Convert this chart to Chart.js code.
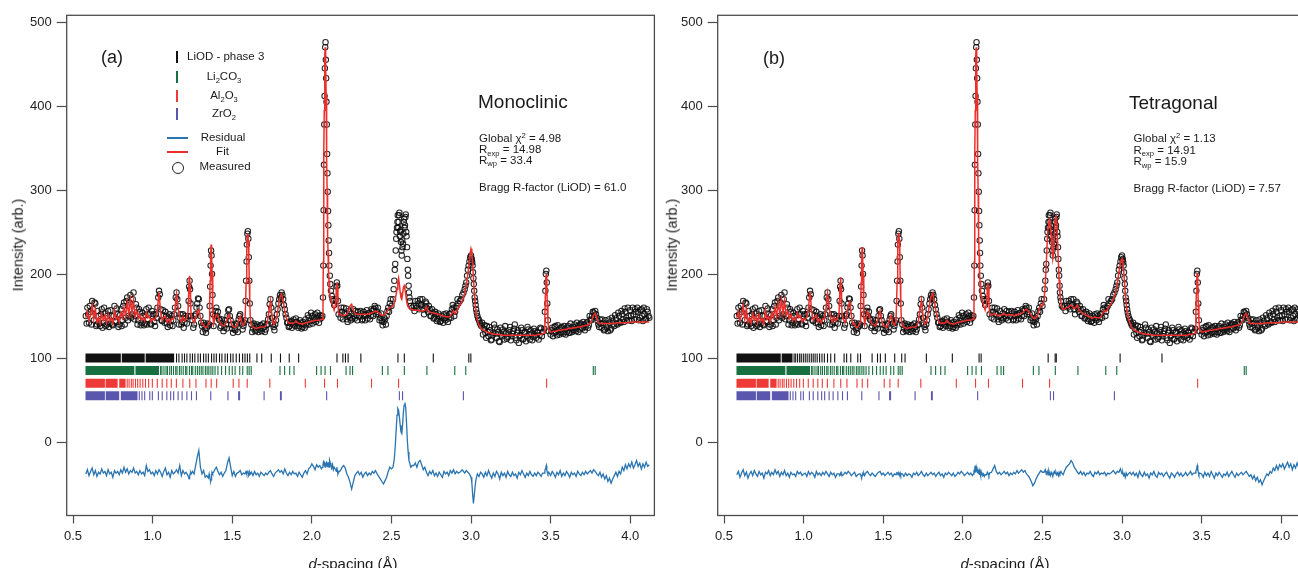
<!DOCTYPE html>
<html>
<head>
<meta charset="utf-8">
<script src="https://cdn.jsdelivr.net/npm/chart.js@4.4.1/dist/chart.umd.min.js"></script>
<style>
  html, body { margin: 0; padding: 0; background: #fff; }
  #wrap { position: relative; width: 1298px; height: 568px; overflow: hidden;
          font-family: "Liberation Sans", Arial, Helvetica, sans-serif; color: #1a1a1a; }
  .panel { position: absolute; top: 0; width: 660px; height: 568px; }
  .panel canvas { position: absolute; left: 0; top: 0; }
  .t  { position: absolute; white-space: nowrap; line-height: 1; transform: translate(-50%, -50%); }
  .tl { position: absolute; white-space: nowrap; line-height: 1; transform: translateY(-50%); }
  .ytitle { position: absolute; white-space: nowrap; line-height: 1; font-size: 14.5px;
            transform: translate(-50%, -50%) rotate(-90deg); }
  .xtitle { position: absolute; white-space: nowrap; line-height: 1; font-size: 15px;
            transform: translate(-50%, -50%); }
  .small { font-size: 11.5px; }
  sub, sup { font-size: 0.66em; line-height: 0; position: relative; vertical-align: baseline; }
  sub { top: 0.38em; }
  sup { top: -0.5em; }
  .mark { position: absolute; }
</style>
</head>
<body>
<div id="wrap">
  <div class="panel" id="panelA" style="left:0px">
    <canvas id="chartA" width="660" height="568"></canvas>
    <div class="ytitle" style="left:18px; top:245px">Intensity (arb.)</div>
    <div class="xtitle" style="left:353px; top:563px"><i>d</i>-spacing (Å)</div>
    <div class="t" style="left:112px; top:57px; font-size:18px">(a)</div>

    <div class="mark" style="left:176px; top:51px; width:2.4px; height:12px; background:#111"></div>
    <div class="mark" style="left:176px; top:71px; width:2.4px; height:12px; background:#17703f"></div>
    <div class="mark" style="left:176px; top:90px; width:2.4px; height:12px; background:#ee3a37"></div>
    <div class="mark" style="left:176px; top:108px; width:2.4px; height:12px; background:#5b56ad"></div>
    <div class="tl small" style="left:187px; top:57px">LiOD - phase 3</div>
    <div class="t small" style="left:224px; top:77px">Li<sub>2</sub>CO<sub>3</sub></div>
    <div class="t small" style="left:224px; top:96px">Al<sub>2</sub>O<sub>3</sub></div>
    <div class="t small" style="left:224px; top:114px">ZrO<sub>2</sub></div>
    <div class="mark" style="left:166.7px; top:137.3px; width:21.6px; height:2px; background:#2a74b0"></div>
    <div class="mark" style="left:166.7px; top:150.8px; width:21.6px; height:2px; background:#ec2f2a"></div>
    <div class="mark" style="left:171.5px; top:161.5px; width:10px; height:10px; border:1.2px solid #222; border-radius:50%"></div>
    <div class="t small" style="left:223px; top:138px">Residual</div>
    <div class="t small" style="left:222.5px; top:152px">Fit</div>
    <div class="t small" style="left:225px; top:167px">Measured</div>

    <div class="tl" style="left:478px; top:101px; font-size:19px">Monoclinic</div>
    <div class="tl small" style="left:479px; top:139px">Global χ<sup>2</sup> = 4.98</div>
    <div class="tl small" style="left:479px; top:150px">R<sub>exp</sub> = 14.98</div>
    <div class="tl small" style="left:479px; top:160.5px">R<sub>wp</sub> = 33.4</div>
    <div class="tl small" style="left:479px; top:187.5px">Bragg R-factor (LiOD) = 61.0</div>
  </div>

  <div class="panel" id="panelB" style="left:651px">
    <canvas id="chartB" width="660" height="568"></canvas>
    <div class="ytitle" style="left:20.5px; top:245px">Intensity (arb.)</div>
    <div class="xtitle" style="left:354px; top:563px"><i>d</i>-spacing (Å)</div>
    <div class="t" style="left:123px; top:58px; font-size:18px">(b)</div>
    <div class="tl" style="left:478px; top:101.5px; font-size:19px">Tetragonal</div>
    <div class="tl small" style="left:482.5px; top:138.5px">Global χ<sup>2</sup> = 1.13</div>
    <div class="tl small" style="left:482.5px; top:150.5px">R<sub>exp</sub> = 14.91</div>
    <div class="tl small" style="left:482.5px; top:162px">R<sub>wp</sub> = 15.9</div>
    <div class="tl small" style="left:482.5px; top:188.5px">Bragg R-factor (LiOD) = 7.57</div>
  </div>
</div>

<script>
// axis ticks
const xTickValues = [0.5, 1.0, 1.5, 2.0, 2.5, 3.0, 3.5, 4.0];
const yTickValues = [0, 100, 200, 300, 400, 500];

// d-spacing grid (Å) shared by the measured pattern, the fits and the residuals
const dSpacing = [
  0.58,0.59,0.60,0.61,0.62,0.63,0.64,0.65,0.66,0.67,0.68,0.69,0.70,0.71,0.72,0.73,0.74,0.75,0.76,0.77,0.78,0.79,0.80,0.81,0.82,0.83,0.84,0.85,0.86,0.87,0.88,0.89,0.90,0.91,0.92,0.93,0.94,0.95,0.96,0.97,0.98,0.99,1.00,
  1.01,1.02,1.03,1.04,1.05,1.06,1.07,1.08,1.09,1.10,1.11,1.12,1.13,1.14,1.15,1.16,1.17,1.18,1.19,1.20,1.21,
  1.222,1.226,1.229,1.232,1.235,1.238,1.242,
  1.25,1.26,1.27,1.28,1.29,1.30,1.31,1.32,1.33,1.34,1.35,
  1.355,1.358,1.361,1.364,1.367,1.370,1.373,1.376,1.379,1.383,
  1.39,1.40,1.41,1.42,1.43,1.44,1.45,1.46,1.47,1.48,1.49,1.50,1.51,1.52,1.53,1.54,1.55,1.56,1.57,
  1.580,1.584,1.587,1.590,1.592,1.595,1.598,1.601,1.604,1.607,1.610,1.614,
  1.62,1.63,1.64,1.65,1.66,1.67,1.68,1.69,1.70,1.71,1.72,1.73,1.74,1.75,1.76,1.77,1.78,1.79,1.80,1.81,1.82,1.83,1.84,1.85,1.86,1.87,1.88,1.89,1.90,1.91,1.92,1.93,1.94,1.95,1.96,1.97,1.98,1.99,2.00,2.01,2.02,2.03,2.04,2.05,2.06,
  2.066,2.070,2.072,2.074,2.076,2.078,2.080,2.082,2.084,2.086,2.088,2.090,2.092,2.094,2.096,2.098,2.100,2.102,2.104,2.106,2.108,2.110,2.113,2.116,2.120,2.125,2.130,2.135,2.140,
  2.150,2.154,2.157,2.160,2.164,2.168,
  2.18,2.19,2.20,2.21,2.22,2.23,2.24,2.25,2.26,2.27,2.28,2.29,2.30,2.31,2.32,2.33,2.34,2.35,2.36,2.37,2.38,2.39,2.40,2.41,2.42,2.43,2.44,2.45,2.46,2.47,2.48,2.49,2.50,
  2.510,2.518,2.524,2.530,2.535,2.540,2.545,2.550,2.555,2.560,2.565,2.570,2.575,2.580,2.585,2.590,2.595,2.600,2.605,2.610,2.616,2.622,2.630,
  2.64,2.65,2.66,2.67,2.68,2.69,2.70,2.71,2.72,2.73,2.74,2.75,2.76,2.77,2.78,2.79,2.80,2.81,2.82,2.83,2.84,2.85,2.86,2.87,2.88,2.89,2.90,2.91,2.92,
  2.930,2.945,2.960,2.970,2.980,2.990,2.995,3.000,3.005,3.010,3.015,3.020,3.026,3.032,3.040,3.050,3.060,
  3.07,3.08,3.09,3.10,3.11,3.12,3.13,3.14,3.15,3.16,3.17,3.18,3.19,3.20,3.21,3.22,3.23,3.24,3.25,3.26,3.27,3.28,3.29,3.30,3.31,3.32,3.33,3.34,3.35,3.36,3.37,3.38,3.39,3.40,3.41,3.42,3.43,3.44,3.45,
  3.460,3.464,3.467,3.470,3.473,3.476,3.479,3.483,3.488,
  3.50,3.51,3.52,3.53,3.54,3.55,3.56,3.57,3.58,3.59,3.60,3.61,3.62,3.63,3.64,3.65,3.66,3.67,3.68,3.69,3.70,3.71,3.72,3.73,3.74,3.75,3.76,3.77,3.78,3.79,3.80,3.81,3.82,3.83,3.84,3.85,3.86,3.87,3.88,3.89,3.90,3.91,3.92,3.93,3.94,3.95,3.96,3.97,3.98,3.99,4.00,4.01,4.02,4.03,4.04,4.05,4.06,4.07,4.08,4.09,4.10,4.11,4.12
];

// measured intensity on the shared grid (same data in both panels)
const measured = [
  150,160,142,155,168,145,165,140,150,138,158,142,153,140,156,141,150,139,162,143,152,140,158,145,166,148,172,150,175,152,178,150,160,145,155,142,150,141,158,146,152,140,150,
  143,152,160,180,158,144,150,155,141,148,139,150,145,160,178,162,148,140,152,142,148,
  150,168,185,192,182,165,150,
  145,140,152,165,170,150,138,142,134,136,138,
  140,162,185,210,228,222,200,175,152,138,
  150,160,155,145,138,142,136,140,150,158,145,135,139,133,140,146,152,141,138,
  145,168,192,215,235,248,251,242,220,192,165,145,
  140,135,138,133,137,134,139,135,137,134,140,152,170,148,137,140,152,165,175,178,170,158,148,142,138,144,140,143,147,141,138,142,137,140,146,142,148,144,150,145,152,147,150,146,148,
  150,172,210,276,330,378,412,445,470,476,455,433,405,378,343,320,298,275,258,240,225,210,198,188,180,174,170,168,163,
  170,185,190,186,168,152,
  148,155,160,152,146,150,148,153,158,147,151,155,149,153,146,150,152,147,154,150,156,158,160,155,152,148,144,143,146,150,160,165,162,
  170,192,212,242,255,270,262,273,250,238,222,232,248,266,258,271,245,218,198,178,168,162,160,
  162,168,160,165,170,163,158,162,165,155,158,150,154,148,152,146,150,144,148,152,145,150,147,153,158,160,155,162,165,
  168,175,182,190,205,215,220,222,218,210,195,180,168,158,150,145,140,
  142,135,130,138,126,133,122,130,136,124,131,119,128,134,122,130,125,133,121,129,135,124,130,118,127,133,123,131,126,134,122,129,125,132,124,130,127,135,131,
  135,155,180,200,204,190,165,145,132,
  128,136,130,138,127,134,130,137,129,135,131,138,130,136,133,140,132,138,134,141,135,140,137,143,139,146,150,154,156,148,140,146,136,142,134,140,132,142,135,144,138,147,140,150,142,152,143,155,145,150,157,144,152,158,146,155,148,158,144,152,147,155,148
];

// further measured points lying between the grid points above
const dMid = [
  0.585,0.595,0.605,0.615,0.625,0.635,0.645,0.655,0.665,0.675,0.685,0.695,0.705,0.715,0.725,0.735,0.745,0.755,0.765,0.775,0.785,0.795,0.805,0.815,0.825,0.835,0.845,0.855,0.865,0.875,0.885,0.895,0.905,0.915,0.925,0.935,0.945,0.955,0.965,0.975,0.985,0.995,
  1.005,1.015,1.025,1.035,1.045,1.055,1.065,1.075,1.085,1.095,1.105,1.115,1.125,1.135,1.145,1.155,1.165,1.175,1.185,1.195,1.205,1.215,
  1.255,1.265,1.275,1.285,1.295,1.305,1.315,1.325,1.335,1.345,
  1.395,1.405,1.415,1.425,1.435,1.445,1.455,1.465,1.475,1.485,1.495,1.505,1.515,1.525,1.535,1.545,1.555,1.565,1.575,
  1.625,1.635,1.645,1.655,1.665,1.675,1.685,1.695,1.705,1.715,1.725,1.735,1.745,1.755,1.765,1.775,1.785,1.795,1.805,1.815,1.825,1.835,1.845,1.855,1.865,1.875,1.885,1.895,1.905,1.915,1.925,1.935,1.945,1.955,1.965,1.975,1.985,1.995,2.005,2.015,2.025,2.035,2.045,2.055,
  2.185,2.195,2.205,2.215,2.225,2.235,2.245,2.255,2.265,2.275,2.285,2.295,2.305,2.315,2.325,2.335,2.345,2.355,2.365,2.375,2.385,2.395,2.405,2.415,2.425,2.435,2.445,2.455,2.465,2.475,2.485,2.495,
  2.514,2.521,2.527,2.532,2.538,2.543,2.548,2.553,2.558,2.563,2.568,2.573,2.578,2.583,2.588,2.593,2.598,2.603,2.608,2.613,
  2.645,2.655,2.665,2.675,2.685,2.695,2.705,2.715,2.725,2.735,2.745,2.755,2.765,2.775,2.785,2.795,2.805,2.815,2.825,2.835,2.845,2.855,2.865,2.875,2.885,2.895,2.905,2.915,
  2.9375,2.9525,2.965,2.975,2.985,3.0025,3.0075,3.0125,3.0175,3.023,3.029,3.036,3.045,3.055,3.065,
  3.075,3.085,3.095,3.105,3.115,3.125,3.135,3.145,3.155,3.165,3.175,3.185,3.195,3.205,3.215,3.225,3.235,3.245,3.255,3.265,3.275,3.285,3.295,3.305,3.315,3.325,3.335,3.345,3.355,3.365,3.375,3.385,3.395,3.405,3.415,3.425,3.435,3.445,
  3.505,3.515,3.525,3.535,3.545,3.555,3.565,3.575,3.585,3.595,3.605,3.615,3.625,3.635,3.645,3.655,3.665,3.675,3.685,3.695,3.705,3.715,3.725,3.735,3.745,3.755,3.765,3.775,3.785,3.795,3.805,3.815,3.825,3.835,3.845,3.855,3.865,3.875,3.885,3.895,3.905,3.915,3.925,3.935,3.945,3.955,3.965,3.975,3.985,3.995,4.005,4.015,4.025,4.035,4.045,4.055,4.065,4.075,4.085,4.095,4.105,4.115
];
const measuredMid = [
  141,152,162,140,158,166,138,156,141,152,136,160,138,150,137,157,140,150,144,159,137,151,138,162,140,168,145,166,148,170,146,164,140,158,139,154,139,151,140,160,141,156,
  152,138,148,172,176,145,157,142,150,137,152,145,138,152,172,170,140,152,143,136,150,141,
  136,150,160,171,160,142,131,139,130,141,
  156,150,147,136,146,132,145,135,157,150,140,130,134,141,131,150,145,134,142,
  131,141,132,140,131,139,132,141,131,139,146,164,160,140,133,145,158,170,172,175,163,152,142,137,143,136,146,138,143,136,145,135,143,136,139,151,140,154,141,148,143,154,142,151,
  160,146,153,159,143,156,145,147,150,156,145,150,156,145,155,145,157,153,146,158,150,162,152,160,145,153,139,148,140,156,155,170,
  182,205,228,250,262,255,270,245,252,228,240,236,262,255,268,250,232,205,186,172,
  156,162,168,158,163,170,152,167,158,162,150,158,147,155,144,153,143,150,142,147,153,143,152,148,163,150,160,170,
  170,178,186,198,210,216,214,202,188,172,163,154,147,142,138,
  128,139,124,131,137,121,127,140,129,134,120,136,126,131,138,123,129,137,126,132,140,121,133,126,136,122,130,120,137,128,133,121,135,127,131,122,136,126,
  133,126,137,131,139,128,136,131,138,128,136,130,141,131,137,134,142,131,140,136,143,133,141,136,150,145,155,150,152,144,137,141,146,133,145,136,146,133,148,140,151,141,154,143,156,146,159,148,160,145,150,160,146,155,160,145,157,150,160,146,158,150
];

// calculated profile, monoclinic model (a)
const fitMono = [
  148,155,145,152,163,146,158,143,148,141,153,145,150,142,152,144,147,141,157,146,149,143,154,148,160,150,166,152,170,153,168,150,156,147,152,145,148,144,154,148,150,143,147,
  145,148,158,178,155,145,148,150,143,146,142,147,146,158,176,160,147,143,149,144,146,
  155,175,195,198,184,165,150,
  146,142,148,155,158,148,140,140,136,137,140,
  142,165,192,220,235,225,202,176,152,140,
  146,152,150,144,140,139,138,141,148,152,145,138,137,136,139,145,150,142,139,
  144,166,190,215,234,246,248,240,220,193,166,146,
  139,137,136,135,136,136,137,137,137,138,142,155,168,150,140,142,150,162,172,176,168,156,148,143,141,142,141,142,144,142,141,141,140,141,142,142,143,143,144,144,145,145,145,145,146,
  146,160,215,285,345,395,435,460,470,466,445,412,375,335,300,270,245,225,210,200,192,185,178,173,169,166,163,160,157,
  165,183,190,184,166,152,
  152,151,150,151,152,156,162,164,158,153,152,152,152,152,152,152,152,152,153,153,154,155,156,155,154,152,151,151,152,154,158,160,160,
  162,165,170,176,182,190,195,188,178,172,170,176,184,186,182,175,168,163,161,160,159,158,158,
  157,157,157,157,156,156,156,157,161,156,155,154,154,153,153,152,152,151,150,150,149,149,149,150,153,156,153,156,160,
  163,168,176,186,200,215,224,230,226,212,196,180,163,152,145,139,136,
  134,133,132,131,130,130,129,129,128,128,128,128,127,127,127,127,127,127,127,127,127,127,127,127,127,127,127,127,127,127,127,127,127,127,127,128,128,128,129,
  130,150,175,195,200,188,165,145,133,
  131,131,132,132,132,133,133,133,134,134,134,135,135,135,136,136,136,137,137,137,138,138,139,139,140,142,146,151,153,148,142,141,141,141,141,141,141,141,141,141,141,142,142,142,142,142,142,142,142,142,143,143,143,143,143,143,143,143,143,143,143,143,143
];

// calculated profile, tetragonal model (b)
const fitTetra = [
  148,155,145,152,163,146,158,143,148,141,153,145,150,142,152,144,147,141,157,146,149,143,154,148,160,150,166,152,170,153,168,150,156,147,152,145,148,144,154,148,150,143,147,
  145,149,159,179,156,145,148,151,143,146,142,147,146,159,177,161,147,143,149,144,146,
  153,172,190,196,183,165,150,
  146,142,150,162,167,150,140,141,136,137,140,
  142,164,190,216,232,224,201,175,152,140,
  147,155,152,145,140,140,138,141,149,156,145,138,138,136,140,146,151,142,139,
  144,167,191,215,235,247,249,241,220,192,165,145,
  139,137,136,135,136,136,137,137,137,138,143,156,169,150,140,142,151,163,173,177,169,157,148,143,141,142,141,142,145,142,141,141,140,141,142,142,143,143,144,144,145,145,145,145,146,
  146,160,215,285,345,395,435,460,470,466,445,412,375,335,300,270,245,225,210,200,192,185,178,173,169,166,163,160,157,
  166,184,190,185,166,152,
  151,152,153,152,150,151,151,152,153,151,151,152,151,152,150,151,152,151,153,153,155,157,158,156,154,151,148,147,148,151,158,163,162,
  168,188,212,238,255,262,265,258,245,228,218,225,248,265,270,262,240,215,193,176,166,160,158,
  158,160,160,162,163,161,159,160,163,157,156,153,153,151,151,149,149,147,148,149,148,148,148,150,154,157,155,158,162,
  164,170,178,187,202,213,217,218,214,205,192,178,165,154,147,141,137,
  134,133,132,131,130,130,129,129,128,128,128,128,127,127,127,127,127,127,127,127,127,127,127,127,127,127,127,127,127,127,127,127,127,127,127,128,128,128,129,
  130,152,178,197,201,189,165,145,133,
  131,131,132,132,132,133,133,133,134,134,134,135,135,135,136,136,136,137,137,137,138,138,139,139,140,142,146,151,153,148,142,141,141,141,141,141,141,141,141,141,141,142,142,142,142,142,142,142,142,142,143,143,143,143,143,143,143,143,143,143,143,143,143
];

// offset residuals (measured - calculated, shifted down)
const residMono = [
  -38,-33,-40,-35,-31,-39,-34,-41,-36,-38,-32,-37,-35,-40,-33,-38,-36,-42,-34,-37,-35,-39,-33,-37,-30,-36,-32,-38,-34,-36,-31,-37,-35,-39,-34,-38,-36,-40,-28,-35,-33,-38,-36,
  -40,-34,-38,-33,-36,-41,-35,-31,-39,-36,-42,-34,-38,-36,-33,-37,-28,-40,-34,-38,-36,
  -40,-42,-44,-42,-38,-36,-38,
  -35,-38,-28,-18,-10,-30,-38,-34,-42,-40,-43,
  -38,-41,-44,-47,-45,-40,-36,-38,-37,-36,
  -33,-30,-35,-39,-36,-41,-37,-34,-25,-19,-30,-40,-35,-41,-37,-36,-34,-39,-37,
  -38,-36,-35,-38,-37,-36,-34,-37,-40,-39,-36,-38,
  -36,-40,-35,-39,-37,-41,-36,-38,-40,-37,-39,-36,-34,-38,-41,-37,-35,-33,-36,-34,-38,-32,-37,-40,-36,-39,-35,-38,-37,-41,-36,-39,-42,-37,-34,-38,-32,-30,-26,-29,-33,-27,-30,-28,-32,
  -30,-27,-25,-28,-22,-26,-29,-24,-30,-27,-25,-28,-26,-23,-27,-30,-25,-28,-24,-27,-30,-26,-22,-25,-28,-31,-27,-33,-30,
  -33,-35,-30,-34,-38,-36,
  -34,-30,-28,-31,-38,-42,-48,-56,-48,-40,-37,-35,-39,-36,-42,-38,-36,-40,-37,-39,-35,-37,-34,-38,-41,-44,-47,-50,-46,-42,-35,-30,-32,
  -30,-20,-5,15,32,40,38,30,20,12,10,20,35,44,47,40,22,2,-12,-22,-26,-30,-28,
  -28,-25,-30,-24,-22,-27,-33,-30,-36,-40,-35,-38,-34,-40,-37,-41,-36,-39,-42,-35,-38,-36,-40,-34,-37,-33,-38,-35,-37,
  -36,-33,-37,-34,-36,-38,-40,-42,-48,-62,-73,-64,-52,-44,-38,-41,-36,
  -38,-42,-36,-40,-34,-39,-43,-37,-41,-35,-38,-44,-36,-40,-37,-42,-35,-39,-41,-36,-40,-38,-43,-36,-39,-34,-38,-42,-37,-40,-35,-39,-41,-37,-40,-36,-38,-41,-37,
  -37,-34,-32,-30,-28,-33,-36,-38,-36,
  -40,-35,-38,-42,-36,-39,-34,-41,-37,-40,-35,-38,-42,-36,-39,-37,-41,-35,-38,-40,-36,-39,-35,-38,-36,-34,-37,-33,-35,-38,-40,-36,-42,-38,-44,-40,-47,-43,-49,-44,-40,-36,-41,-35,-38,-30,-34,-27,-32,-26,-30,-24,-31,-27,-22,-29,-25,-32,-26,-30,-24,-29,-27
];

const residTetra = [
  -39,-35,-42,-37,-33,-40,-36,-43,-38,-35,-40,-34,-38,-41,-35,-39,-37,-43,-36,-38,-34,-40,-36,-39,-33,-38,-35,-41,-36,-39,-34,-40,-37,-42,-36,-39,-38,-41,-35,-38,-36,-40,-38,
  -37,-41,-35,-39,-36,-38,-42,-35,-39,-37,-40,-36,-39,-35,-38,-41,-36,-39,-37,-42,-38,
  -38,-40,-39,-37,-36,-38,-40,
  -39,-36,-38,-35,-37,-40,-38,-36,-41,-39,-38,
  -38,-39,-41,-42,-40,-38,-39,-38,-37,-40,
  -37,-35,-38,-40,-37,-39,-41,-38,-36,-35,-39,-37,-40,-38,-36,-39,-37,-41,-38,
  -39,-37,-38,-36,-38,-39,-37,-38,-40,-37,-39,-38,
  -38,-41,-37,-40,-38,-39,-42,-37,-39,-36,-40,-38,-35,-39,-41,-37,-40,-38,-36,-39,-37,-41,-38,-36,-40,-38,-42,-37,-39,-36,-38,-40,-37,-41,-39,-36,-38,-35,-37,-40,-38,-36,-39,-37,-40,
  -38,-33,-36,-30,-34,-28,-33,-36,-31,-35,-29,-34,-37,-32,-35,-38,-33,-36,-39,-35,-37,-40,-36,-39,-37,-40,-38,-41,-39,
  -39,-36,-37,-38,-40,-37,
  -36,-32,-28,-35,-38,-36,-39,-37,-35,-38,-36,-40,-37,-39,-36,-38,-34,-37,-35,-33,-36,-34,-38,-40,-43,-47,-52,-49,-44,-40,-37,-34,-36,
  -36,-33,-38,-35,-39,-34,-37,-40,-36,-38,-41,-37,-35,-38,-36,-39,-37,-40,-36,-38,-35,-37,-39,
  -34,-30,-28,-26,-22,-25,-30,-33,-36,-38,-35,-39,-36,-40,-37,-38,-35,-39,-41,-36,-38,-35,-39,-37,-38,-36,-40,-37,-38,
  -37,-34,-38,-35,-36,-32,-35,-38,-36,-40,-38,-42,-37,-40,-38,-36,-39,
  -36,-40,-37,-42,-35,-39,-41,-36,-40,-38,-43,-37,-39,-35,-40,-42,-36,-39,-37,-41,-38,-36,-40,-43,-37,-39,-42,-38,-36,-40,-37,-41,-39,-36,-40,-38,-35,-39,-37,
  -37,-35,-33,-30,-28,-32,-36,-39,-37,
  -38,-42,-36,-40,-37,-41,-35,-39,-43,-37,-40,-36,-39,-42,-38,-40,-36,-41,-38,-35,-39,-42,-37,-40,-38,-36,-39,-37,-35,-38,-41,-39,-44,-40,-46,-42,-48,-45,-51,-46,-42,-38,-40,-35,-37,-31,-34,-28,-33,-27,-30,-26,-32,-28,-24,-30,-26,-33,-27,-31,-25,-30,-28
];

// Bragg reflection positions (Å): continuous runs and single reflections
const liodMonoBands = [[0.578, 0.80], [0.806, 0.95], [0.956, 1.135]];
const liodMonoLines = [1.15, 1.165, 1.185, 1.20, 1.215, 1.235, 1.25, 1.265, 1.285, 1.30, 1.32, 1.335, 1.35, 1.37, 1.385, 1.40, 1.42, 1.435, 1.455, 1.47, 1.49, 1.505, 1.525, 1.545, 1.565, 1.58, 1.595, 1.61,
  1.655, 1.685, 1.745, 1.803, 1.858, 1.917, 2.158, 2.195, 2.211, 2.228, 2.308, 2.541, 2.581, 2.763, 2.986, 2.999];
const liodTetraBands = [[0.578, 0.856], [0.862, 0.93]];
const liodTetraLines = [0.94, 0.95, 0.962, 0.975, 0.985, 0.998, 1.01, 1.022, 1.035, 1.048, 1.06, 1.072, 1.085, 1.1, 1.115, 1.13, 1.15, 1.17, 1.195,
  1.254, 1.27, 1.296, 1.34, 1.357, 1.43, 1.464, 1.482, 1.513, 1.572, 1.616, 1.637, 1.771, 1.934, 2.102, 2.115, 2.536, 2.58, 2.587, 2.988, 3.251];
const li2co3Bands = [[0.578, 0.885], [0.892, 1.04]];
const li2co3Lines = [1.05, 1.058, 1.071, 1.084, 1.093, 1.107, 1.118, 1.131, 1.145, 1.153, 1.168, 1.179, 1.192, 1.207, 1.215, 1.231, 1.244, 1.252, 1.268, 1.281,
  1.293, 1.305, 1.316, 1.331, 1.342, 1.353, 1.366, 1.378, 1.392, 1.41, 1.433, 1.458, 1.481, 1.50, 1.518, 1.547, 1.566, 1.594, 1.606, 1.619,
  1.80, 1.829, 1.861, 1.888, 2.03, 2.058, 2.083, 2.117, 2.215, 2.24, 2.256, 2.443, 2.478, 2.581, 2.723, 2.898, 2.967, 3.768, 3.78];
const al2o3Bands = [[0.578, 0.70], [0.704, 0.78], [0.79, 0.83]];
const al2o3Lines = [0.84, 0.852, 0.866, 0.877, 0.892, 0.906, 0.921, 0.938, 0.955, 0.975, 0.998, 1.029, 1.06, 1.089, 1.117, 1.149, 1.19, 1.233, 1.272,
  1.335, 1.368, 1.402, 1.506, 1.542, 1.594, 1.736, 1.959, 2.08, 2.161, 2.375, 2.545, 3.475];
const zro2Bands = [[0.578, 0.70], [0.705, 0.79], [0.80, 0.905]];
const zro2Lines = [0.916, 0.933, 0.95, 0.982, 0.998, 1.036, 1.06, 1.089, 1.113, 1.132, 1.16, 1.185, 1.215, 1.244, 1.275,
  1.365, 1.473, 1.54, 1.546, 1.70, 1.803, 1.808, 2.093, 2.55, 2.57, 2.952];

[measured, fitMono, fitTetra, residMono, residTetra].forEach((arr, k) => {
  if (arr.length !== dSpacing.length) {
    throw new Error('series ' + k + ' has ' + arr.length + ' values, expected ' + dSpacing.length);
  }
});
if (measuredMid.length !== dMid.length) {
  throw new Error('measuredMid has ' + measuredMid.length + ' values, expected ' + dMid.length);
}

const FONT = '"Liberation Sans", Arial, Helvetica, sans-serif';
const AXIS = '#4d4d4d';
const colors = { liod: '#111111', li2co3: '#17703f', al2o3: '#ee3a37', zro2: '#5b56ad', fit: '#ec2f2a', resid: '#2a74b0' };

const framePlugin = {
  id: 'frame',
  afterDraw(chart) {
    const { ctx, chartArea: a } = chart;
    ctx.save();
    ctx.strokeStyle = AXIS;
    ctx.lineWidth = 1.3;
    ctx.strokeRect(a.left, a.top, a.right - a.left, a.bottom - a.top);
    ctx.restore();
  }
};

function series(values) {
  return dSpacing.map((d, i) => ({ x: d, y: values[i] }));
}

function bandPoints(bands, level) {
  const out = [];
  bands.forEach(([a, b]) => {
    out.push({ x: a, y: level }, { x: b, y: level }, { x: b, y: null });
  });
  return out;
}

function phaseSets(bands, lines, level, color) {
  return [
    { data: bandPoints(bands, level), showLine: true, borderColor: color, borderWidth: 9,
      borderCapStyle: 'butt', pointRadius: 0, spanGaps: false, order: 3 },
    { data: lines.map(x => ({ x, y: level })), showLine: false, pointStyle: 'line', rotation: 90,
      pointRadius: 4.5, borderColor: color, borderWidth: 1.1, order: 3 }
  ];
}

const measuredPoints = series(measured).concat(dMid.map((d, i) => ({ x: d, y: measuredMid[i] })));

function buildChart(id, fit, resid, liodBands, liodLines) {
  const datasets = [
    { data: series(fit), showLine: true, borderColor: colors.fit, borderWidth: 1.5, pointRadius: 0, order: 0 },
    { data: measuredPoints, showLine: false, pointStyle: 'circle', pointRadius: 2.7,
      borderColor: 'rgba(15,15,15,0.9)', backgroundColor: 'rgba(0,0,0,0)', borderWidth: 1.05, order: 1 },
    { data: series(resid), showLine: true, borderColor: colors.resid, borderWidth: 1.3, pointRadius: 0, order: 2 },
    ...phaseSets(liodBands, liodLines, 100, colors.liod),
    ...phaseSets(li2co3Bands, li2co3Lines, 85, colors.li2co3),
    ...phaseSets(al2o3Bands, al2o3Lines, 70, colors.al2o3),
    ...phaseSets(zro2Bands, zro2Lines, 55, colors.zro2)
  ];

  return new Chart(document.getElementById(id), {
    type: 'scatter',
    data: { datasets },
    options: {
      responsive: false,
      devicePixelRatio: 1,
      animation: false,
      layout: { padding: { top: 15.3, right: 3, bottom: 0, left: 0 } },
      plugins: { legend: { display: false }, tooltip: { enabled: false } },
      elements: { line: { tension: 0 } },
      scales: {
        x: {
          type: 'linear', min: 0.46, max: 4.152,
          afterFit: s => { s.height = 52.5; },
          afterBuildTicks: s => { s.ticks = xTickValues.map(v => ({ value: v })); },
          ticks: { autoSkip: false, maxRotation: 0, padding: 5,
                   color: '#222', font: { family: FONT, size: 13 }, callback: v => Number(v).toFixed(1) },
          grid: { drawOnChartArea: false, tickLength: 8, tickColor: AXIS, tickWidth: 1.2 },
          border: { display: false }
        },
        y: {
          type: 'linear', min: -87.5, max: 508,
          afterFit: s => { s.width = 66.7; },
          afterBuildTicks: s => { s.ticks = yTickValues.map(v => ({ value: v })); },
          ticks: { autoSkip: false, padding: 5, color: '#222', font: { family: FONT, size: 13 },
                   callback: v => String(v) },
          grid: { drawOnChartArea: false, tickLength: 10, tickColor: AXIS, tickWidth: 1.2 },
          border: { display: false }
        }
      }
    },
    plugins: [framePlugin]
  });
}

buildChart('chartA', fitMono, residMono, liodMonoBands, liodMonoLines);
buildChart('chartB', fitTetra, residTetra, liodTetraBands, liodTetraLines);
</script>
</body>
</html>
